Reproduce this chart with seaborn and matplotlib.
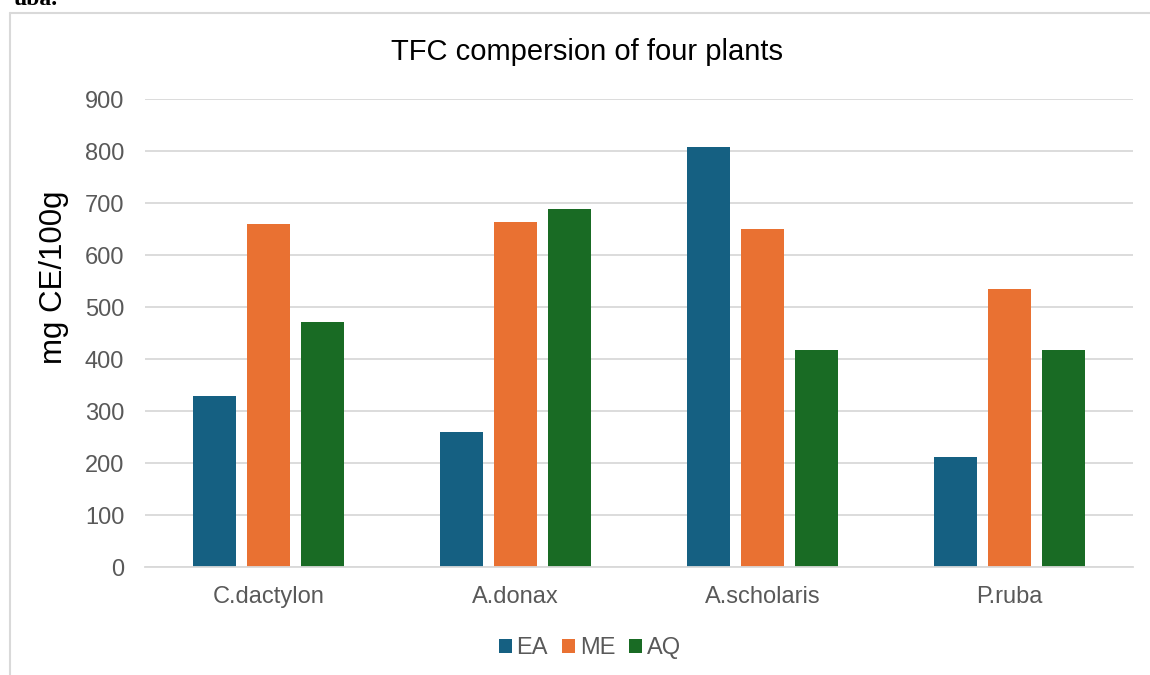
import matplotlib
matplotlib.use("Agg")
import matplotlib.pyplot as plt
from matplotlib.lines import Line2D
from matplotlib.patches import Patch
import seaborn as sns
import pandas as pd

# Total flavonoid content (mg CE/100g) per plant and extract
plants = ["C.dactylon", "A.donax", "A.scholaris", "P.ruba"]
extracts = ["EA", "ME", "AQ"]
ea_values = [329, 260, 807, 212]
me_values = [659, 663, 650, 535]
aq_values = [471, 688, 417, 417]
y_ticks = [0, 100, 200, 300, 400, 500, 600, 700, 800, 900]
colors = ["#156082", "#E97132", "#196B24"]

df = pd.DataFrame({
    "plant": plants * 3,
    "extract": [e for e in extracts for _ in plants],
    "value": ea_values + me_values + aq_values,
})

sns.set_theme(style="white")
plt.rcParams["font.family"] = ["Liberation Sans", "DejaVu Sans"]

W, H = 1150, 675
fig = plt.figure(figsize=(W / 100, H / 100), dpi=100)
fig.patch.set_facecolor("white")
ax = fig.add_axes([145 / W, 1 - 567 / H, (1133 - 145) / W, (567 - 99) / H])

sns.barplot(data=df, x="plant", y="value", hue="extract", order=plants,
            hue_order=extracts, palette=colors, width=0.66, gap=0.21,
            linewidth=0, saturation=1, ax=ax, legend=False)

ax.set_ylim(0, 900)
ax.set_xlim(-0.5, 3.5)
ax.set_yticks(y_ticks)
ax.yaxis.grid(True, color="#d9d9d9", linewidth=1.3)
ax.set_axisbelow(True)
for side in ["left", "right", "top"]:
    ax.spines[side].set_visible(False)
ax.spines["bottom"].set_color("#d9d9d9")
ax.spines["bottom"].set_linewidth(1.3)
ax.tick_params(axis="both", length=0, labelsize=17, labelcolor="#595959")
ax.tick_params(axis="y", pad=15)
ax.tick_params(axis="x", pad=14)
ax.set_xlabel("")
ax.set_ylabel("mg CE/100g", fontsize=22.5, color="black")
ax.yaxis.set_label_coords((69 - 145) / (1133 - 145), (567 - 277) / (567 - 99))

fig.text(587 / W, 1 - 52 / H, "TFC compersion of four plants", ha="center",
         va="center", fontsize=21, color="black")

handles = [Patch(facecolor=c, edgecolor="none") for c in colors]
fig.legend(handles, extracts, loc="center", bbox_to_anchor=(590 / W, 1 - 648 / H),
           ncol=3, frameon=False, fontsize=17, handlelength=0.55,
           handleheight=0.55, handletextpad=0.2, columnspacing=0.6,
           labelcolor="#595959")

# Chart frame and the document text just above it
fig.add_artist(Line2D([9.5 / W, 9.5 / W], [0, 1 - 13 / H], color="#d9d9d9",
                      linewidth=1.5, transform=fig.transFigure))
fig.add_artist(Line2D([9.5 / W, 1], [1 - 13 / H, 1 - 13 / H], color="#d9d9d9",
                      linewidth=1.5, transform=fig.transFigure))
fig.text(58 / W, 1 - 5 / H, "uba.", ha="right", va="baseline", fontsize=17,
         fontweight="bold", family=["Liberation Serif", "DejaVu Serif"],
         color="black")

fig.savefig("out.png", dpi=100, facecolor="white")
